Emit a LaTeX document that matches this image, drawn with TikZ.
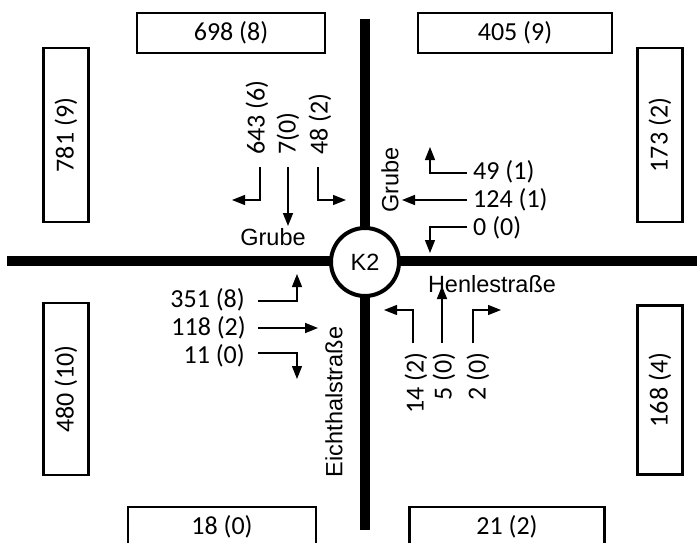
\documentclass[tikz,border=0pt]{standalone}
\usepackage{fontspec}
\setmainfont{Carlito}
\newfontfamily\streetfont{Liberation Sans}
\usetikzlibrary{arrows.meta}

\tikzset{
  road/.style={line width=10pt},
  countbox/.style={draw, line width=2.6pt, inner sep=0pt, font=\fontsize{26}{26}\selectfont},
  flowlabel/.style={inner sep=0pt, font=\fontsize{26}{26}\selectfont},
  streetname/.style={inner sep=0pt, font=\streetfont\fontsize{23.5}{23.5}\selectfont},
  straightflow/.style={line width=1.7pt, -{Triangle[length=13pt,width=10pt]}},
  turnflow/.style={line width=1.2pt, -{Triangle[length=13pt,width=10pt]}},
}

\begin{document}
\begin{tikzpicture}[x=1pt, y=-1pt]
  \useasboundingbox (0,0) rectangle (697,542);
  \clip (0,0) rectangle (697,542);

  % roads
  \coordinate (rn) at (365,19);
  \coordinate (rs) at (365,530);
  \coordinate (rw) at (7,261);
  \coordinate (re) at (700,261);
  \draw[road] (rn) -- (rs);
  \draw[road] (rw) -- (re);

  % junction
  \node[circle, draw, fill=white, line width=4pt, minimum size=68pt, inner sep=0pt,
        font=\streetfont\fontsize{23.5}{23.5}\selectfont] (k2) at (365,262) {K2};

  % counting boxes
  \node[countbox, minimum width=188pt, minimum height=40pt] (bn1) at (231,33) {698 (8)};
  \node[countbox, minimum width=194pt, minimum height=40pt] (bn2) at (515,33) {405 (9)};
  \node[countbox, rotate=90, minimum width=174pt, minimum height=45pt] (bw1) at (66,135) {781 (9)};
  \node[countbox, rotate=90, minimum width=172pt, minimum height=45pt] (bw2) at (66,389) {480 (10)};
  \node[countbox, rotate=90, minimum width=174pt, minimum height=45pt] (be1) at (660,135) {173 (2)};
  \node[countbox, rotate=90, minimum width=169pt, minimum height=45pt] (be2) at (660,390) {168 (4)};
  \node[countbox, minimum width=188pt, minimum height=40pt] (bs1) at (222,527) {18 (0)};
  \node[countbox, minimum width=195pt, minimum height=40pt] (bs2) at (507,527) {21 (2)};

  % street names
  \node[streetname] (grube1) at (273,237) {Grube};
  \node[streetname, rotate=90] (grube2) at (390,180) {Grube};
  \node[streetname] (henle) at (492,284) {Henlestraße};
  \node[streetname, rotate=90] (eicht) at (334,402) {Eichthalstraße};

  % flows from the north
  \node[flowlabel, rotate=90, anchor=west] (n1) at (257,155) {643 (6)};
  \node[flowlabel, rotate=90, anchor=west] (n2) at (288,155) {7(0)};
  \node[flowlabel, rotate=90, anchor=west] (n3) at (320,155) {48 (2)};
  \coordinate (n1a) at (260,167); \coordinate (n1b) at (260,200); \coordinate (n1c) at (232,200);
  \coordinate (n2a) at (288,167); \coordinate (n2c) at (288,226);
  \coordinate (n3a) at (318,167); \coordinate (n3b) at (318,200); \coordinate (n3c) at (346,200);
  \draw[turnflow] (n1a) -- (n1b) -- (n1c);
  \draw[straightflow] (n2a) -- (n2c);
  \draw[turnflow] (n3a) -- (n3b) -- (n3c);

  % flows from the east
  \node[flowlabel, anchor=west] (e1) at (473,172) {49 (1)};
  \node[flowlabel, anchor=west] (e2) at (473,200) {124 (1)};
  \node[flowlabel, anchor=west] (e3) at (473,228) {0 (0)};
  \coordinate (e1a) at (467,173); \coordinate (e1b) at (430,173); \coordinate (e1c) at (430,147);
  \coordinate (e2a) at (467,200); \coordinate (e2c) at (402,200);
  \coordinate (e3a) at (467,227); \coordinate (e3b) at (430,227); \coordinate (e3c) at (430,253);
  \draw[turnflow] (e1a) -- (e1b) -- (e1c);
  \draw[straightflow] (e2a) -- (e2c);
  \draw[turnflow] (e3a) -- (e3b) -- (e3c);

  % flows from the west
  \node[flowlabel, anchor=east] (w1) at (245,300) {351 (8)};
  \node[flowlabel, anchor=east] (w2) at (246,328) {118 (2)};
  \node[flowlabel, anchor=east] (w3) at (245,356) {11 (0)};
  \coordinate (w1a) at (258,301); \coordinate (w1b) at (297,301); \coordinate (w1c) at (297,274);
  \coordinate (w2a) at (258,328); \coordinate (w2c) at (318,328);
  \coordinate (w3a) at (258,353); \coordinate (w3b) at (297,353); \coordinate (w3c) at (297,379);
  \draw[turnflow] (w1a) -- (w1b) -- (w1c);
  \draw[straightflow] (w2a) -- (w2c);
  \draw[turnflow] (w3a) -- (w3b) -- (w3c);

  % flows from the south
  \node[flowlabel, rotate=90, anchor=east] (s1) at (416,352) {14 (2)};
  \node[flowlabel, rotate=90, anchor=east] (s2) at (444,352) {5 (0)};
  \node[flowlabel, rotate=90, anchor=east] (s3) at (478,352) {2 (0)};
  \coordinate (s1a) at (413,343); \coordinate (s1b) at (413,310); \coordinate (s1c) at (384,310);
  \coordinate (s2a) at (442,343); \coordinate (s2c) at (442,286);
  \coordinate (s3a) at (473,343); \coordinate (s3b) at (473,310); \coordinate (s3c) at (501,310);
  \draw[turnflow] (s1a) -- (s1b) -- (s1c);
  \draw[straightflow] (s2a) -- (s2c);
  \draw[turnflow] (s3a) -- (s3b) -- (s3c);
\end{tikzpicture}
\end{document}
